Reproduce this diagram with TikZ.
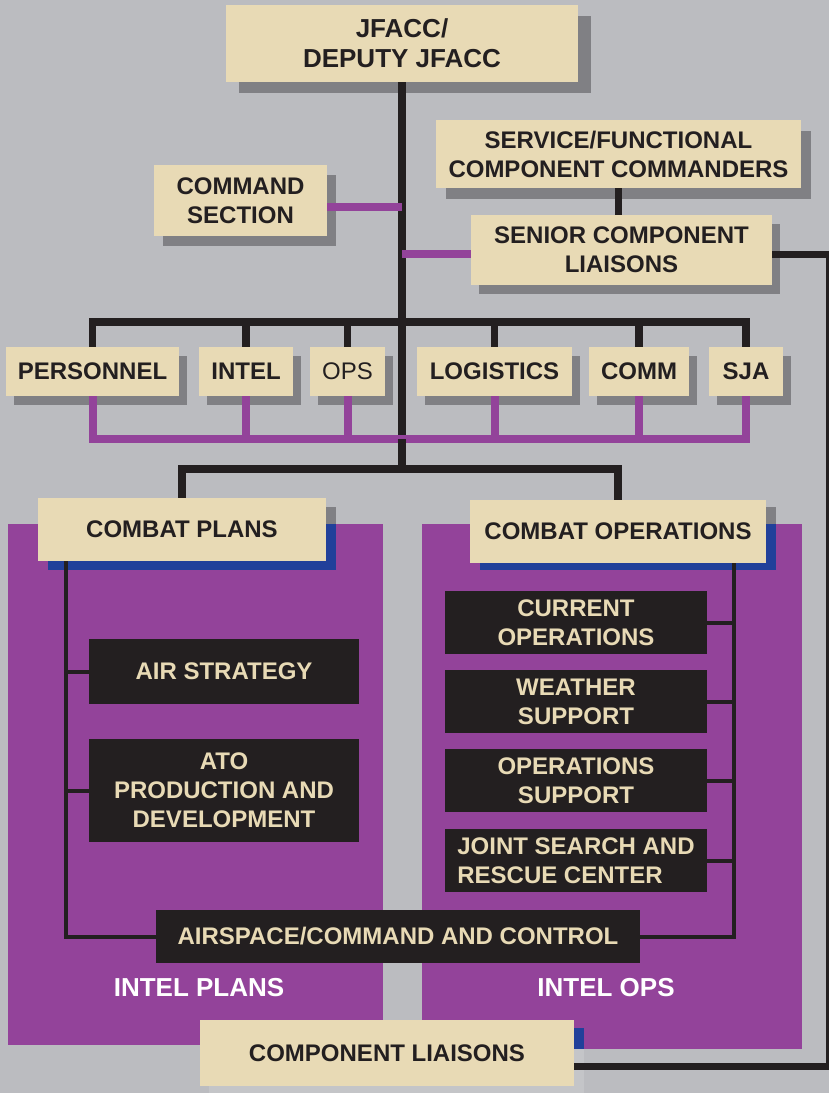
\documentclass[tikz,border=0pt]{standalone}
\usepackage{fontspec}
\setmainfont{Liberation Sans}
\definecolor{bgc}{HTML}{BBBCC0}
\definecolor{cream}{HTML}{E8DAB5}
\definecolor{shad}{HTML}{808084}
\definecolor{purp}{HTML}{93439A}
\definecolor{blu}{HTML}{21409A}
\definecolor{ink}{HTML}{231F20}
\definecolor{faint}{HTML}{C4C5C8}
\pgfdeclarelayer{bglayer}\pgfdeclarelayer{panellayer}\pgfdeclarelayer{shadlayer}\pgfdeclarelayer{connlayer}
\pgfsetlayers{bglayer,panellayer,shadlayer,connlayer,main}
\newcommand\boxshadow[3]{\fill[shad] ([shift={(#2,#3)}]#1.south west) rectangle ([shift={(#2,#3)}]#1.north east);}
\begin{document}
\begin{tikzpicture}[x=1pt,y=-1pt,
  cbox/.style={fill=cream, text=ink, font=\fontsize{24}{29}\selectfont\bfseries, align=center, inner sep=0pt},
  dbox/.style={fill=ink, text=cream, font=\fontsize{24}{29}\selectfont\bfseries, align=center, inner sep=0pt},
  paneltext/.style={text=white, font=\fontsize{26}{30}\selectfont\bfseries},
  blk/.style={draw=ink, line width=7.5pt, line join=miter},
  thinline/.style={draw=ink, line width=4pt, line join=miter},
  pur/.style={draw=purp, line width=8pt, line join=miter}]
\useasboundingbox (0,0) rectangle (829,1093);
\begin{pgfonlayer}{bglayer}
\fill[bgc] (0,0) rectangle (829,1093);
\end{pgfonlayer}
\begin{pgfonlayer}{panellayer}
\fill[purp] (8,524) rectangle (383,1045);
\fill[purp] (422,524) rectangle (802,1049);
\end{pgfonlayer}

% top
\node[cbox, minimum width=352pt, minimum height=77pt, font=\fontsize{26}{30}\selectfont\bfseries] (jfacc) at (402,43.5) {\raisebox{-3pt}{JFACC/}\\\raisebox{-3pt}{DEPUTY JFACC}};
\node[cbox, minimum width=173pt, minimum height=71pt] (cmd) at (240.5,200.5) {COMMAND\\SECTION};
\node[cbox, minimum width=365pt, minimum height=68pt] (serv) at (618.5,154) {SERVICE/FUNCTIONAL\\COMPONENT COMMANDERS};
\node[cbox, minimum width=301pt, minimum height=70pt] (senior) at (621.5,250) {SENIOR COMPONENT\\LIAISONS};

% staff row
\node[cbox, minimum width=173pt, minimum height=49pt] (pers) at (92.5,371.5) {PERSONNEL};
\node[cbox, minimum width=94pt, minimum height=49pt] (intel) at (246,371.5) {INTEL};
\node[cbox, minimum width=75pt, minimum height=49pt, font=\fontsize{24}{29}\selectfont] (ops) at (347.5,371.5) {OPS};
\node[cbox, minimum width=155pt, minimum height=49pt] (log) at (494.5,371.5) {LOGISTICS};
\node[cbox, minimum width=100pt, minimum height=49pt] (comm) at (639,371.5) {COMM};
\node[cbox, minimum width=74pt, minimum height=49pt] (sja) at (746,371.5) {SJA};

% combat
\node[cbox, minimum width=288pt, minimum height=63pt] (cplans) at (182,529.5) {COMBAT PLANS};
\node[cbox, minimum width=296pt, minimum height=63pt] (cops) at (618,531.5) {COMBAT OPERATIONS};

\node[dbox, minimum width=270pt, minimum height=65pt] (airstrat) at (224,671.5) {AIR STRATEGY};
\node[dbox, minimum width=270pt, minimum height=103pt] (ato) at (224,790.5) {ATO\\PRODUCTION AND\\DEVELOPMENT};

\node[dbox, minimum width=262pt, minimum height=63pt] (curops) at (576,622.5) {CURRENT\\OPERATIONS};
\node[dbox, minimum width=262pt, minimum height=63pt] (weather) at (576,701.5) {WEATHER\\SUPPORT};
\node[dbox, minimum width=262pt, minimum height=63pt] (opsup) at (576,780.5) {OPERATIONS\\SUPPORT};
\node[dbox, align=left, minimum width=262pt, minimum height=63pt] (jsrc) at (576,860.5) {JOINT SEARCH AND\\RESCUE CENTER};

\node[dbox, minimum width=484pt, minimum height=53pt] (airsp) at (398,936.5) {AIRSPACE/COMMAND AND CONTROL};

\node[paneltext] (iplans) at (199,988) {INTEL PLANS};
\node[paneltext] (iops) at (606,988) {INTEL OPS};

\node[cbox, minimum width=374pt, minimum height=66pt] (complia) at (387,1053) {COMPONENT LIAISONS};

% shadows
\begin{pgfonlayer}{shadlayer}
\boxshadow{jfacc}{13}{11}
\boxshadow{cmd}{9}{10}
\boxshadow{serv}{10}{11}
\boxshadow{senior}{8}{9}
\foreach \b in {pers,intel,ops,log,comm,sja}{\boxshadow{\b}{8}{9}}
\boxshadow{cplans}{10}{9}
\boxshadow{cops}{10}{7}
\fill[blu] (48,524) rectangle (336,570);
\fill[blu] (480,524) rectangle (776,570);
\fill[faint] (209,1028) rectangle (584,1093);
\fill[blu] (574,1028) rectangle (584,1049);
\end{pgfonlayer}

% connectors
\coordinate (cmdy) at (0,207);
\coordinate (seny) at (0,254);
\coordinate (busy) at (0,322);
\coordinate (pbusy) at (0,439);
\coordinate (cbusy) at (0,469);
\coordinate (lv) at (66,0);
\coordinate (rv) at (734,0);
\coordinate (rtop) at (829,254);
\coordinate (rbot) at (829,1066);
\begin{pgfonlayer}{connlayer}
\draw[blk] (jfacc.south) -- (jfacc.south |- cbusy);
\draw[pur] (cmd.east |- cmdy) -- (jfacc.south |- cmdy);
\draw[pur] (jfacc.south |- seny) -- (senior.west |- seny);
\draw[blk] (serv.south) -- (serv.south |- senior.north);
\draw[blk, line width=7pt] (senior.east |- seny) -- (rtop) -- (rbot) -- (complia.east |- rbot);
% staff bus
\draw[blk] (pers.north) -- (pers.north |- busy) -- (sja.north |- busy) -- (sja.north);
\foreach \b in {intel,ops,log,comm}{\draw[blk] (\b.north) -- (\b.north |- busy);}
\draw[pur] (pers.south) -- (pers.south |- pbusy) -- (sja.south |- pbusy) -- (sja.south);
\foreach \b in {intel,ops,log,comm}{\draw[pur] (\b.south) -- (\b.south |- pbusy);}
\draw[blk] (jfacc.south |- pbusy) -- (jfacc.south |- cbusy);
% combat bus
\draw[blk] (cplans.north) -- (cplans.north |- cbusy) -- (cops.north |- cbusy) -- (cops.north);
% inner
\draw[thinline] (cplans.south -| lv) -- (lv |- airsp.west) -- (airsp.west);
\draw[thinline] (lv |- airstrat.west) -- (airstrat.west);
\draw[thinline] (lv |- ato.west) -- (ato.west);
\draw[thinline] (cops.south -| rv) -- (rv |- airsp.east) -- (airsp.east);
\foreach \b in {curops,weather,opsup,jsrc}{\draw[thinline] (rv |- \b.east) -- (\b.east);}
\end{pgfonlayer}
\end{tikzpicture}
\end{document}
